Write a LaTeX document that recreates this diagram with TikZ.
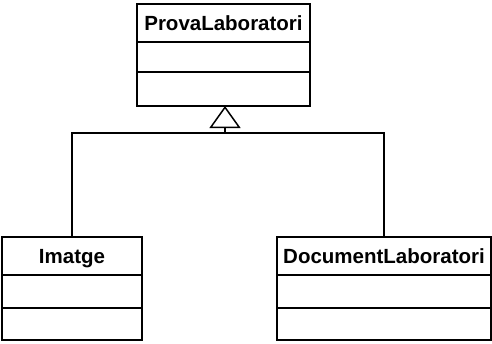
\documentclass[tikz,border=0pt]{standalone}
\usepackage{fontspec}
\setmainfont{Liberation Sans}
\usetikzlibrary{arrows.meta}
\begin{document}
\begin{tikzpicture}[x=1pt,y=-1pt,
  umlpart/.style={draw=black, line width=1.5pt, inner sep=0pt, outer sep=0pt, anchor=north},
  umlname/.style={umlpart, minimum height=38pt,
    font=\fontsize{20.5}{24}\selectfont\bfseries, text height=14.7pt, text depth=0pt},
  edge/.style={draw=black, line width=1.5pt},
  generalization/.style={edge, -{Triangle[open, length=22pt, width=31pt]}}]
\useasboundingbox (0,0) rectangle (492,343);

% superclass
\node[umlname, minimum width=173pt] (prova-name) at (223.5,4) {ProvaLaboratori};
\node[umlpart, minimum width=173pt, minimum height=30pt] (prova-attr) at (prova-name.south) {};
\node[umlpart, minimum width=173pt, minimum height=34pt] (prova-ops) at (prova-attr.south) {};

% subclasses
\node[umlname, minimum width=140pt] (img-name) at (72,237) {Imatge};
\node[umlpart, minimum width=140pt, minimum height=33pt] (img-attr) at (img-name.south) {};
\node[umlpart, minimum width=140pt, minimum height=32pt] (img-ops) at (img-attr.south) {};

\node[umlname, minimum width=214pt] (doc-name) at (384,237) {DocumentLaboratori};
\node[umlpart, minimum width=214pt, minimum height=33pt] (doc-attr) at (doc-name.south) {};
\node[umlpart, minimum width=214pt, minimum height=32pt] (doc-ops) at (doc-attr.south) {};

% inheritance tree
\coordinate (join) at (225,133);
\draw[edge] (img-name.north) |- (join) -| (doc-name.north);
\draw[generalization] (join) -- (join |- prova-ops.south);
\end{tikzpicture}
\end{document}
